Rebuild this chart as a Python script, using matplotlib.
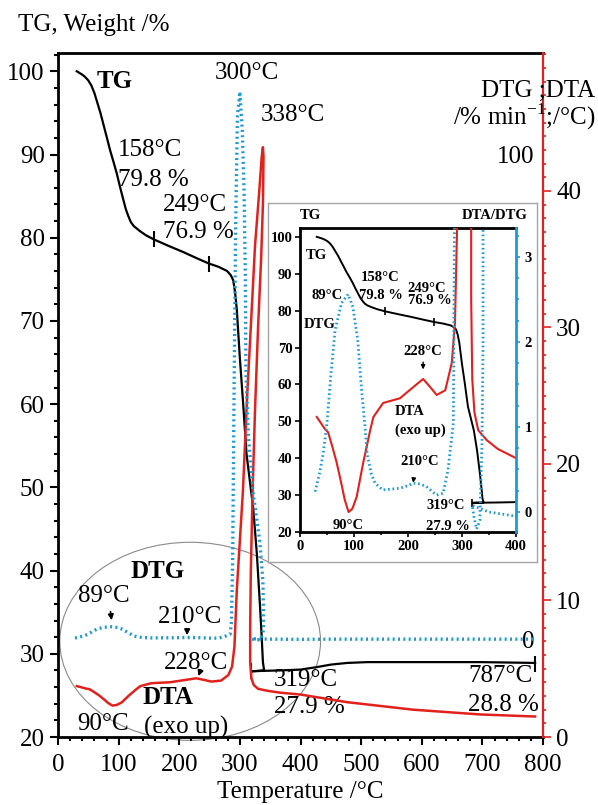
# TG / DTG / DTA thermogram with inset (0-400 °C)

import matplotlib
matplotlib.use("Agg")
import matplotlib.pyplot as plt
from matplotlib.patches import Ellipse
from matplotlib.ticker import MultipleLocator

plt.rcParams['font.family'] = ['Liberation Serif', 'DejaVu Serif']
plt.rcParams['mathtext.fontset'] = 'custom'
plt.rcParams['mathtext.rm'] = 'Liberation Serif'

RED = '#e2211c'
BLUE = '#1c9ad6'

# TG curve (temperature runs back after the exotherm, so the order is time order)
tg_temp = [31, 40, 45, 50, 55, 60, 65, 70, 75, 80, 86, 92, 97, 102, 108, 112, 116, 120,
           125, 130, 135, 145, 158, 183, 206, 230, 249, 265, 279, 285, 289, 292, 295,
           300, 305, 311, 322, 328, 333, 336, 338, 340, 330, 319, 340, 366, 400, 427,
           450, 477, 510, 600, 697, 787]
tg_mass = [100, 99.6, 99.3, 98.9, 98.3, 97.4, 96.2, 95.0, 93.6, 92.2, 90.5, 89.0, 87.7,
           86.2, 84.5, 83.4, 82.6, 81.9, 81.4, 81.1, 80.8, 80.3, 79.8, 79.0, 78.3, 77.5,
           76.9, 76.5, 76.0, 75.5, 74.9, 73.5, 71.3, 65.5, 60.5, 54.0, 47.5, 42.0, 36.0,
           32.0, 29.0, 28.0, 27.95, 27.9, 27.95, 28.0, 28.1, 28.4, 28.7, 28.9, 29.0,
           29.0, 29.0, 28.9]

# DTA curve
dta_temp = [31, 46, 52, 60, 68, 76, 83, 90, 97, 105, 117, 130, 136, 154, 185, 210, 228,
            241, 253, 269, 281, 287, 291, 295, 300, 305, 312, 318, 325, 332, 336, 338,
            339, 338, 335, 330, 325, 321, 318, 317, 317, 319, 323, 330, 346, 366, 400,
            477, 586, 697, 787]
dta_signal = [3.73, 3.55, 3.50, 3.28, 3.04, 2.75, 2.48, 2.30, 2.35, 2.53, 3.04, 3.53,
              3.73, 3.94, 4.01, 4.18, 4.30, 4.18, 4.06, 4.13, 4.54, 5.14, 6.6, 10.8,
              14.4, 18.0, 25.0, 30.0, 36.0, 40.0, 42.5, 43.2, 42.5, 39.0, 35.0, 30.0,
              24.0, 18.0, 12.0, 8.0, 5.5, 4.3, 3.8, 3.53, 3.38, 3.25, 3.11, 2.55, 2.0,
              1.65, 1.5]

# DTG curve
dtg_temp = [28, 36, 43, 50, 57, 65, 77, 89, 98, 107, 114, 121, 124, 132, 139, 153, 170,
            185, 200, 210, 222, 234, 245, 253, 265, 274, 281, 284, 286, 288, 290, 293,
            296, 300, 304, 307, 309, 310, 314, 322, 333, 338, 339, 339, 337, 333, 327,
            322, 319, 330, 350, 400, 450, 550, 650, 787]
dtg_rate = [0.24, 0.45, 0.69, 1.05, 1.6, 2.14, 2.46, 2.56, 2.41, 2.02, 1.44, 0.96, 0.69,
            0.45, 0.34, 0.26, 0.27, 0.28, 0.31, 0.34, 0.33, 0.30, 0.24, 0.20, 0.22, 0.49,
            0.88, 1.05, 3.4, 15, 45, 85, 108, 113, 105, 92, 75, 55, 42, 30, 20, 12, 5,
            2, 0.8, -0.1, -0.2, -0.05, 0.08, 0.05, 0.0, -0.05, 0.0, 0.0, 0.0, 0.0]

# marked TG points
mark_temp = [158, 249, 319, 787]
mark_mass = [79.8, 76.9, 27.9, 28.8]

x_ticks = [0, 100, 200, 300, 400, 500, 600, 700, 800]
tg_ticks = [20, 30, 40, 50, 60, 70, 80, 90, 100]
dta_ticks = [0, 10, 20, 30, 40]
dtg_ticks = [0, 100]
ins_x_ticks = [0, 100, 200, 300, 400]
ins_dtg_ticks = [0, 1, 2, 3]

fig = plt.figure(figsize=(5.98, 8.05), dpi=100)

# ---------------- main plot ----------------
ax = fig.add_axes([58/598, 68/805, 485/598, 684/805])
ax.plot(tg_temp, tg_mass, color='black', lw=1.6, zorder=3)
ax.plot(mark_temp, mark_mass, ls='none', marker='|', ms=11, mew=1.5, color='black', zorder=4)
ax.set_xlim(0, 800)
ax.set_ylim(20, 102.2)
ax.set_xticks(x_ticks)
ax.set_yticks(tg_ticks)
ax.xaxis.set_minor_locator(MultipleLocator(20))
ax.yaxis.set_minor_locator(MultipleLocator(2))
ax.tick_params(which='both', direction='out', labelsize=18, width=1.5)
ax.tick_params(which='major', length=6)
ax.tick_params(which='minor', length=3)
ax.tick_params(axis='x', pad=6)
for s in ['left', 'bottom', 'top']:
    ax.spines[s].set_linewidth(2)
ax.spines['right'].set_visible(False)
ax.set_xlabel('Temperature /°C', fontsize=18, labelpad=4)

ax.add_patch(Ellipse((218, 31.5), 430, 23.8, fill=False, ec='#8a8a8a', lw=0.8, clip_on=False))

ax2 = ax.twinx()
ax2.plot(dta_temp, dta_signal, color=RED, lw=1.8)
ax2.set_ylim(0, 50.1)
ax2.set_yticks(dta_ticks)
ax2.yaxis.set_minor_locator(MultipleLocator(1))
ax2.tick_params(which='both', direction='out', colors=RED, labelcolor='black', labelsize=18, width=1.2)
ax2.tick_params(which='major', length=6)
ax2.tick_params(which='minor', length=2.5)
for s in ['left', 'bottom', 'top']:
    ax2.spines[s].set_visible(False)
ax2.spines['right'].set_color(RED)
ax2.spines['right'].set_linewidth(1.6)

ax3 = ax.twinx()
ax3.plot(dtg_temp, dtg_rate, color=BLUE, lw=2.4, ls=(0, (0.6, 1.0)))
ax3.set_ylim(-20.2, 121)
ax3.set_yticks(dtg_ticks)
ax3.tick_params(axis='y', length=0, pad=-6, labelsize=18)
for lab in ax3.get_yticklabels():
    lab.set_horizontalalignment('right')
for s in ax3.spines.values():
    s.set_visible(False)

# main annotations
txt = dict(fontsize=18, ha='center', va='center')
ax.text(94, 98.8, 'TG', fontweight='bold', **txt)
ax.text(312, 99.8, '300°C', **txt)
ax.text(388, 94.8, '338°C', **txt)
ax.text(99, 90.5, '158°C', fontsize=18, ha='left', va='center')
ax.text(99, 86.9, '79.8 %', fontsize=18, ha='left', va='center')
ax.text(173, 83.9, '249°C', fontsize=18, ha='left', va='center')
ax.text(173, 80.7, '76.9 %', fontsize=18, ha='left', va='center')
ax.text(165, 39.9, 'DTG', fontweight='bold', **txt)
ax.text(76, 36.9, '89°C', **txt)
ax.text(218, 34.4, '210°C', **txt)
ax.text(228, 28.9, '228°C', **txt)
ax.text(182, 24.8, 'DTA', fontweight='bold', **txt)
ax.text(74, 21.6, '90°C', **txt)
ax.text(212, 21.2, '(exo up)', **txt)
ax.text(409, 26.8, '319°C', **txt)
ax.text(414, 23.6, '27.9 %', **txt)
ax.text(730, 27.3, '787°C', **txt)
ax.text(735, 23.8, '28.8 %', **txt)

arrow = dict(arrowstyle='-|>', color='black', lw=1.2, mutation_scale=8)
ax.annotate('', xy=(89, 33.7), xytext=(86, 35.4), arrowprops=arrow)
ax.annotate('', xy=(213, 31.9), xytext=(213, 33.1), arrowprops=arrow)
ax.annotate('', xy=(230, 27.0), xytext=(237, 28.4), arrowprops=arrow)

fig.text(18/598, 1 - 25/805, 'TG, Weight /%', fontsize=18, ha='left', va='center')
fig.text(595/598, 1 - 91/805, 'DTG ;DTA', fontsize=18, ha='right', va='center')
fig.text(595/598, 1 - 117/805, '/% min$^{-1}$;/°C)', fontsize=18, ha='right', va='center')

# ---------------- inset ----------------
box = fig.add_axes([268/598, 243/805, 269/598, 359/805])
box.set_xticks([])
box.set_yticks([])
for s in box.spines.values():
    s.set_color('#a5a5a5')
    s.set_linewidth(1)

ins = fig.add_axes([300/598, 273/805, 216/598, 304/805])
ins.plot(tg_temp, tg_mass, color='black', lw=1.4, zorder=3)
ins.plot(mark_temp[:3], mark_mass[:3], ls='none', marker='|', ms=6, mew=1.2, color='black', zorder=4)
ins.set_xlim(0, 400)
ins.set_ylim(20, 102.4)
ins.set_xticks(ins_x_ticks)
ins.set_yticks(tg_ticks)
ins.xaxis.set_minor_locator(MultipleLocator(50))
ins.tick_params(which='both', direction='out', labelsize=10.5, width=1.2, pad=2)
ins.tick_params(which='major', length=3.5)
ins.tick_params(which='minor', length=2)
for lab in ins.get_xticklabels() + ins.get_yticklabels():
    lab.set_fontweight('bold')
for s in ['left', 'bottom', 'top']:
    ins.spines[s].set_linewidth(2)
ins.spines['right'].set_visible(False)

ins3 = ins.twinx()
ins3.plot(dta_temp, dta_signal, color=RED, lw=1.5)
ins3.set_ylim(2.0, 6.57)
ins3.set_yticks([])
for s in ins3.spines.values():
    s.set_visible(False)

ins2 = ins.twinx()
ins2.plot(dtg_temp, dtg_rate, color=BLUE, lw=2.0, ls=(0, (0.6, 1.0)))
ins2.set_ylim(-0.235, 3.34)
ins2.set_yticks(ins_dtg_ticks)
ins2.yaxis.set_minor_locator(MultipleLocator(0.25))
ins2.tick_params(which='both', direction='out', colors=BLUE, labelcolor='black', labelsize=10.5, width=1.2, pad=3)
ins2.tick_params(which='major', length=3)
ins2.tick_params(which='minor', length=2)
for lab in ins2.get_yticklabels():
    lab.set_fontweight('bold')
for s in ['left', 'bottom', 'top']:
    ins2.spines[s].set_visible(False)
ins2.spines['right'].set_color(BLUE)
ins2.spines['right'].set_linewidth(2)

itx = dict(fontsize=10.5, fontweight='bold', ha='center', va='center')
ins.text(20, 105.7, 'TG', **itx)
ins.text(422, 105.7, 'DTA/DTG', fontsize=10.5, fontweight='bold', ha='right', va='center')
ins.text(31, 94.9, 'TG', **itx)
ins.text(148, 88.9, '158°C', **itx)
ins.text(150, 84.0, '79.8 %', **itx)
ins.text(235, 85.9, '249°C', **itx)
ins.text(241, 82.7, '76.9 %', **itx)
ins.text(50, 84.0, '89°C', **itx)
ins.text(37, 76.2, 'DTG', **itx)
ins.text(228, 68.8, '228°C', **itx)
ins.text(204, 52.6, 'DTA', **itx)
ins.text(222, 47.7, '(exo up)', **itx)
ins.text(222, 39.0, '210°C', **itx)
ins.text(89, 21.7, '90°C', **itx)
ins.text(270, 27.1, '319°C', **itx)
ins.text(274, 21.4, '27.9 %', **itx)

iarrow = dict(arrowstyle='-|>', color='black', lw=1.0, mutation_scale=6)
ins.annotate('', xy=(228, 63.3), xytext=(228, 66.8), arrowprops=iarrow)
ins.annotate('', xy=(209, 32.6), xytext=(211, 35.0), arrowprops=iarrow)

fig.savefig('out.png', dpi=100)
